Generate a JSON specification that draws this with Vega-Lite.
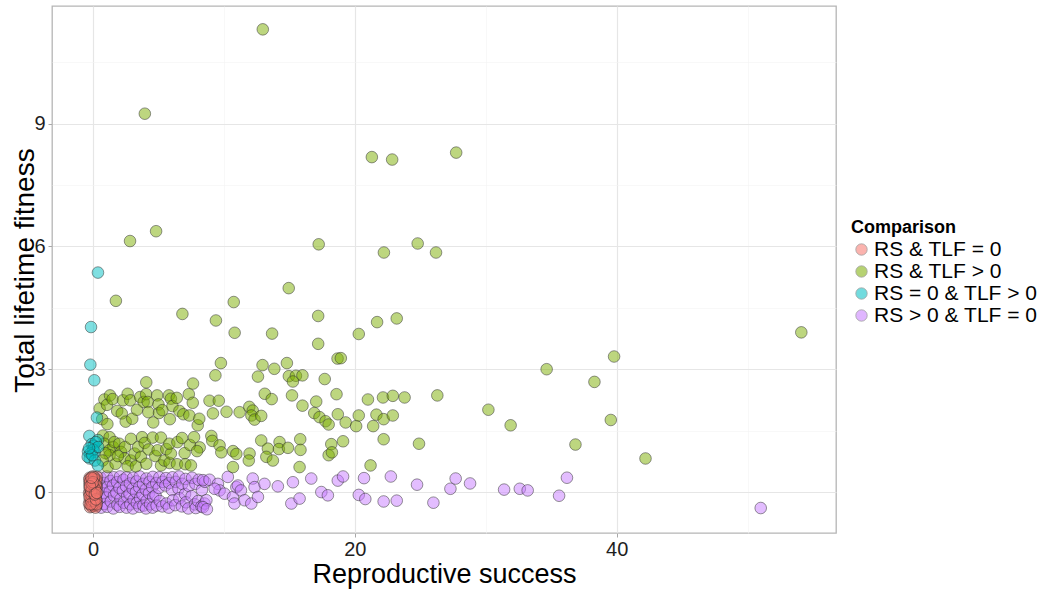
{
  "$schema": "https://vega.github.io/schema/vega-lite/v6.json",
  "width": 784,
  "height": 527,
  "autosize": "none",
  "padding": {"left": 52, "top": 6, "right": 203, "bottom": 57},
  "background": "white",
  "config": {
    "font": "Liberation Sans",
    "view": {"stroke": "#b5b5b5", "strokeWidth": 1.3}
  },
  "datasets": {
    "fitness": [
      {"rs":0.57,"tlf":0.35,"group":"RS > 0 & TLF = 0"},{"rs":0.6,"tlf":0.08,"group":"RS > 0 & TLF = 0"},{"rs":0.55,"tlf":-0.16,"group":"RS > 0 & TLF = 0"},{"rs":0.62,"tlf":-0.38,"group":"RS > 0 & TLF = 0"},
      {"rs":0.83,"tlf":0.22,"group":"RS > 0 & TLF = 0"},{"rs":0.79,"tlf":-0.03,"group":"RS > 0 & TLF = 0"},{"rs":0.86,"tlf":-0.29,"group":"RS > 0 & TLF = 0"},
      {"rs":1.06,"tlf":0.38,"group":"RS > 0 & TLF = 0"},{"rs":1.1,"tlf":0.12,"group":"RS > 0 & TLF = 0"},{"rs":1.02,"tlf":-0.13,"group":"RS > 0 & TLF = 0"},{"rs":1.08,"tlf":-0.36,"group":"RS > 0 & TLF = 0"},
      {"rs":1.33,"tlf":0.27,"group":"RS > 0 & TLF = 0"},{"rs":1.28,"tlf":0.01,"group":"RS > 0 & TLF = 0"},{"rs":1.36,"tlf":-0.23,"group":"RS > 0 & TLF = 0"},
      {"rs":1.58,"tlf":0.36,"group":"RS > 0 & TLF = 0"},{"rs":1.52,"tlf":0.16,"group":"RS > 0 & TLF = 0"},{"rs":1.6,"tlf":-0.09,"group":"RS > 0 & TLF = 0"},{"rs":1.55,"tlf":-0.4,"group":"RS > 0 & TLF = 0"},
      {"rs":1.83,"tlf":0.24,"group":"RS > 0 & TLF = 0"},{"rs":1.79,"tlf":-0.02,"group":"RS > 0 & TLF = 0"},{"rs":1.86,"tlf":-0.31,"group":"RS > 0 & TLF = 0"},
      {"rs":2.07,"tlf":0.38,"group":"RS > 0 & TLF = 0"},{"rs":2.02,"tlf":0.1,"group":"RS > 0 & TLF = 0"},{"rs":2.1,"tlf":-0.17,"group":"RS > 0 & TLF = 0"},{"rs":2.04,"tlf":-0.36,"group":"RS > 0 & TLF = 0"},
      {"rs":2.33,"tlf":0.3,"group":"RS > 0 & TLF = 0"},{"rs":2.28,"tlf":0.03,"group":"RS > 0 & TLF = 0"},{"rs":2.36,"tlf":-0.26,"group":"RS > 0 & TLF = 0"},
      {"rs":2.57,"tlf":0.36,"group":"RS > 0 & TLF = 0"},{"rs":2.53,"tlf":0.14,"group":"RS > 0 & TLF = 0"},{"rs":2.6,"tlf":-0.11,"group":"RS > 0 & TLF = 0"},{"rs":2.56,"tlf":-0.38,"group":"RS > 0 & TLF = 0"},
      {"rs":2.82,"tlf":0.21,"group":"RS > 0 & TLF = 0"},{"rs":2.79,"tlf":-0.05,"group":"RS > 0 & TLF = 0"},{"rs":2.85,"tlf":-0.3,"group":"RS > 0 & TLF = 0"},
      {"rs":3.07,"tlf":0.35,"group":"RS > 0 & TLF = 0"},{"rs":3.03,"tlf":0.08,"group":"RS > 0 & TLF = 0"},{"rs":3.1,"tlf":-0.19,"group":"RS > 0 & TLF = 0"},{"rs":3.05,"tlf":-0.4,"group":"RS > 0 & TLF = 0"},
      {"rs":3.32,"tlf":0.26,"group":"RS > 0 & TLF = 0"},{"rs":3.28,"tlf":0.0,"group":"RS > 0 & TLF = 0"},{"rs":3.35,"tlf":-0.27,"group":"RS > 0 & TLF = 0"},
      {"rs":3.57,"tlf":0.38,"group":"RS > 0 & TLF = 0"},{"rs":3.53,"tlf":0.12,"group":"RS > 0 & TLF = 0"},{"rs":3.6,"tlf":-0.15,"group":"RS > 0 & TLF = 0"},{"rs":3.55,"tlf":-0.36,"group":"RS > 0 & TLF = 0"},
      {"rs":3.82,"tlf":0.2,"group":"RS > 0 & TLF = 0"},{"rs":3.78,"tlf":-0.06,"group":"RS > 0 & TLF = 0"},{"rs":3.85,"tlf":-0.33,"group":"RS > 0 & TLF = 0"},
      {"rs":4.08,"tlf":0.33,"group":"RS > 0 & TLF = 0"},{"rs":4.03,"tlf":0.06,"group":"RS > 0 & TLF = 0"},{"rs":4.1,"tlf":-0.21,"group":"RS > 0 & TLF = 0"},{"rs":4.05,"tlf":-0.4,"group":"RS > 0 & TLF = 0"},
      {"rs":4.32,"tlf":0.25,"group":"RS > 0 & TLF = 0"},{"rs":4.28,"tlf":-0.03,"group":"RS > 0 & TLF = 0"},{"rs":4.36,"tlf":-0.3,"group":"RS > 0 & TLF = 0"},
      {"rs":4.57,"tlf":0.37,"group":"RS > 0 & TLF = 0"},{"rs":4.52,"tlf":0.12,"group":"RS > 0 & TLF = 0"},{"rs":4.6,"tlf":-0.12,"group":"RS > 0 & TLF = 0"},{"rs":4.55,"tlf":-0.38,"group":"RS > 0 & TLF = 0"},
      {"rs":4.83,"tlf":0.22,"group":"RS > 0 & TLF = 0"},{"rs":4.78,"tlf":-0.08,"group":"RS > 0 & TLF = 0"},{"rs":4.86,"tlf":-0.33,"group":"RS > 0 & TLF = 0"},
      {"rs":5.07,"tlf":0.36,"group":"RS > 0 & TLF = 0"},{"rs":5.02,"tlf":0.1,"group":"RS > 0 & TLF = 0"},{"rs":5.1,"tlf":-0.22,"group":"RS > 0 & TLF = 0"},
      {"rs":5.32,"tlf":0.25,"group":"RS > 0 & TLF = 0"},{"rs":5.29,"tlf":-0.35,"group":"RS > 0 & TLF = 0"},
      {"rs":5.57,"tlf":0.34,"group":"RS > 0 & TLF = 0"},{"rs":5.53,"tlf":0.16,"group":"RS > 0 & TLF = 0"},{"rs":5.6,"tlf":-0.28,"group":"RS > 0 & TLF = 0"},
      {"rs":5.82,"tlf":0.22,"group":"RS > 0 & TLF = 0"},{"rs":5.79,"tlf":-0.38,"group":"RS > 0 & TLF = 0"},
      {"rs":6.07,"tlf":0.36,"group":"RS > 0 & TLF = 0"},{"rs":6.03,"tlf":0.05,"group":"RS > 0 & TLF = 0"},{"rs":6.1,"tlf":-0.2,"group":"RS > 0 & TLF = 0"},
      {"rs":6.32,"tlf":0.25,"group":"RS > 0 & TLF = 0"},{"rs":6.28,"tlf":-0.32,"group":"RS > 0 & TLF = 0"},
      {"rs":6.57,"tlf":0.38,"group":"RS > 0 & TLF = 0"},{"rs":6.53,"tlf":0.08,"group":"RS > 0 & TLF = 0"},{"rs":6.6,"tlf":-0.15,"group":"RS > 0 & TLF = 0"},
      {"rs":6.82,"tlf":0.2,"group":"RS > 0 & TLF = 0"},{"rs":6.79,"tlf":-0.35,"group":"RS > 0 & TLF = 0"},
      {"rs":7.07,"tlf":0.32,"group":"RS > 0 & TLF = 0"},{"rs":7.03,"tlf":-0.05,"group":"RS > 0 & TLF = 0"},{"rs":7.1,"tlf":-0.25,"group":"RS > 0 & TLF = 0"},
      {"rs":7.32,"tlf":0.15,"group":"RS > 0 & TLF = 0"},{"rs":7.28,"tlf":-0.4,"group":"RS > 0 & TLF = 0"},
      {"rs":7.57,"tlf":0.35,"group":"RS > 0 & TLF = 0"},{"rs":7.53,"tlf":-0.1,"group":"RS > 0 & TLF = 0"},
      {"rs":7.82,"tlf":0.2,"group":"RS > 0 & TLF = 0"},{"rs":7.78,"tlf":-0.3,"group":"RS > 0 & TLF = 0"},{"rs":7.85,"tlf":-0.39,"group":"RS > 0 & TLF = 0"},
      {"rs":8.07,"tlf":0.3,"group":"RS > 0 & TLF = 0"},{"rs":8.03,"tlf":-0.22,"group":"RS > 0 & TLF = 0"},
      {"rs":8.32,"tlf":0.05,"group":"RS > 0 & TLF = 0"},{"rs":8.28,"tlf":-0.35,"group":"RS > 0 & TLF = 0"},
      {"rs":8.55,"tlf":0.25,"group":"RS > 0 & TLF = 0"},{"rs":8.52,"tlf":-0.28,"group":"RS > 0 & TLF = 0"},
      {"rs":8.4,"tlf":0.29,"group":"RS > 0 & TLF = 0"},{"rs":8.9,"tlf":0.3,"group":"RS > 0 & TLF = 0"},{"rs":9.54,"tlf":0.2,"group":"RS > 0 & TLF = 0"},{"rs":9.67,"tlf":0.04,"group":"RS > 0 & TLF = 0"},
      {"rs":9.29,"tlf":0.08,"group":"RS > 0 & TLF = 0"},{"rs":10.3,"tlf":0.37,"group":"RS > 0 & TLF = 0"},{"rs":10.05,"tlf":-0.04,"group":"RS > 0 & TLF = 0"},{"rs":10.69,"tlf":-0.12,"group":"RS > 0 & TLF = 0"},
      {"rs":10.8,"tlf":-0.28,"group":"RS > 0 & TLF = 0"},{"rs":10.95,"tlf":0.12,"group":"RS > 0 & TLF = 0"},{"rs":11.07,"tlf":0.16,"group":"RS > 0 & TLF = 0"},{"rs":11.3,"tlf":0.04,"group":"RS > 0 & TLF = 0"},
      {"rs":11.58,"tlf":-0.2,"group":"RS > 0 & TLF = 0"},{"rs":12.09,"tlf":-0.28,"group":"RS > 0 & TLF = 0"},{"rs":12.2,"tlf":0.33,"group":"RS > 0 & TLF = 0"},{"rs":12.34,"tlf":0.12,"group":"RS > 0 & TLF = 0"},
      {"rs":12.6,"tlf":-0.12,"group":"RS > 0 & TLF = 0"},{"rs":13.1,"tlf":0.2,"group":"RS > 0 & TLF = 0"},{"rs":14.12,"tlf":0.14,"group":"RS > 0 & TLF = 0"},{"rs":15.15,"tlf":-0.28,"group":"RS > 0 & TLF = 0"},
      {"rs":15.27,"tlf":0.24,"group":"RS > 0 & TLF = 0"},{"rs":15.78,"tlf":-0.16,"group":"RS > 0 & TLF = 0"},{"rs":16.67,"tlf":0.33,"group":"RS > 0 & TLF = 0"},{"rs":17.44,"tlf":0.0,"group":"RS > 0 & TLF = 0"},
      {"rs":17.94,"tlf":-0.08,"group":"RS > 0 & TLF = 0"},{"rs":18.7,"tlf":0.28,"group":"RS > 0 & TLF = 0"},{"rs":19.1,"tlf":0.38,"group":"RS > 0 & TLF = 0"},{"rs":20.3,"tlf":-0.07,"group":"RS > 0 & TLF = 0"},
      {"rs":20.8,"tlf":-0.17,"group":"RS > 0 & TLF = 0"},{"rs":20.7,"tlf":0.34,"group":"RS > 0 & TLF = 0"},{"rs":22.2,"tlf":-0.23,"group":"RS > 0 & TLF = 0"},{"rs":22.75,"tlf":0.38,"group":"RS > 0 & TLF = 0"},
      {"rs":23.2,"tlf":-0.21,"group":"RS > 0 & TLF = 0"},{"rs":24.75,"tlf":0.18,"group":"RS > 0 & TLF = 0"},{"rs":26.0,"tlf":-0.26,"group":"RS > 0 & TLF = 0"},{"rs":27.3,"tlf":0.08,"group":"RS > 0 & TLF = 0"},
      {"rs":27.7,"tlf":0.33,"group":"RS > 0 & TLF = 0"},{"rs":28.8,"tlf":0.21,"group":"RS > 0 & TLF = 0"},{"rs":31.4,"tlf":0.06,"group":"RS > 0 & TLF = 0"},{"rs":32.6,"tlf":0.08,"group":"RS > 0 & TLF = 0"},
      {"rs":33.2,"tlf":0.04,"group":"RS > 0 & TLF = 0"},{"rs":35.6,"tlf":-0.09,"group":"RS > 0 & TLF = 0"},{"rs":36.2,"tlf":0.35,"group":"RS > 0 & TLF = 0"},{"rs":51.0,"tlf":-0.39,"group":"RS > 0 & TLF = 0"},
      {"rs":8.66,"tlf":-0.2,"group":"RS > 0 & TLF = 0"},{"rs":8.4,"tlf":-0.37,"group":"RS > 0 & TLF = 0"},{"rs":8.7,"tlf":-0.42,"group":"RS > 0 & TLF = 0"},

      {"rs":12.97,"tlf":11.3,"group":"RS & TLF > 0"},{"rs":3.96,"tlf":9.24,"group":"RS & TLF > 0"},{"rs":21.3,"tlf":8.18,"group":"RS & TLF > 0"},{"rs":22.85,"tlf":8.12,"group":"RS & TLF > 0"},
      {"rs":27.74,"tlf":8.29,"group":"RS & TLF > 0"},{"rs":2.83,"tlf":6.13,"group":"RS & TLF > 0"},{"rs":4.82,"tlf":6.37,"group":"RS & TLF > 0"},{"rs":17.24,"tlf":6.05,"group":"RS & TLF > 0"},
      {"rs":24.8,"tlf":6.07,"group":"RS & TLF > 0"},{"rs":26.2,"tlf":5.85,"group":"RS & TLF > 0"},{"rs":22.22,"tlf":5.85,"group":"RS & TLF > 0"},{"rs":1.75,"tlf":4.67,"group":"RS & TLF > 0"},
      {"rs":6.83,"tlf":4.35,"group":"RS & TLF > 0"},{"rs":14.95,"tlf":4.98,"group":"RS & TLF > 0"},{"rs":10.75,"tlf":4.64,"group":"RS & TLF > 0"},{"rs":17.2,"tlf":4.3,"group":"RS & TLF > 0"},
      {"rs":21.7,"tlf":4.15,"group":"RS & TLF > 0"},{"rs":23.2,"tlf":4.24,"group":"RS & TLF > 0"},{"rs":9.39,"tlf":4.19,"group":"RS & TLF > 0"},{"rs":13.68,"tlf":3.87,"group":"RS & TLF > 0"},
      {"rs":10.82,"tlf":3.89,"group":"RS & TLF > 0"},{"rs":20.3,"tlf":3.86,"group":"RS & TLF > 0"},{"rs":17.2,"tlf":3.62,"group":"RS & TLF > 0"},{"rs":54.1,"tlf":3.9,"group":"RS & TLF > 0"},
      {"rs":39.8,"tlf":3.31,"group":"RS & TLF > 0"},{"rs":34.65,"tlf":3.0,"group":"RS & TLF > 0"},{"rs":38.3,"tlf":2.69,"group":"RS & TLF > 0"},{"rs":26.3,"tlf":2.36,"group":"RS & TLF > 0"},
      {"rs":30.2,"tlf":2.01,"group":"RS & TLF > 0"},{"rs":31.9,"tlf":1.63,"group":"RS & TLF > 0"},{"rs":39.55,"tlf":1.76,"group":"RS & TLF > 0"},{"rs":36.85,"tlf":1.16,"group":"RS & TLF > 0"},
      {"rs":42.2,"tlf":0.82,"group":"RS & TLF > 0"},{"rs":24.9,"tlf":1.18,"group":"RS & TLF > 0"},
      {"rs":9.77,"tlf":3.15,"group":"RS & TLF > 0"},{"rs":12.95,"tlf":3.1,"group":"RS & TLF > 0"},{"rs":13.85,"tlf":3.01,"group":"RS & TLF > 0"},{"rs":14.81,"tlf":3.15,"group":"RS & TLF > 0"},
      {"rs":18.68,"tlf":3.26,"group":"RS & TLF > 0"},{"rs":18.93,"tlf":3.27,"group":"RS & TLF > 0"},{"rs":9.35,"tlf":2.85,"group":"RS & TLF > 0"},{"rs":12.6,"tlf":2.82,"group":"RS & TLF > 0"},
      {"rs":14.96,"tlf":2.83,"group":"RS & TLF > 0"},{"rs":15.5,"tlf":2.84,"group":"RS & TLF > 0"},{"rs":16.0,"tlf":2.85,"group":"RS & TLF > 0"},{"rs":15.27,"tlf":2.7,"group":"RS & TLF > 0"},
      {"rs":17.7,"tlf":2.76,"group":"RS & TLF > 0"},{"rs":13.12,"tlf":2.4,"group":"RS & TLF > 0"},{"rs":13.65,"tlf":2.27,"group":"RS & TLF > 0"},{"rs":15.2,"tlf":2.36,"group":"RS & TLF > 0"},
      {"rs":16.0,"tlf":2.11,"group":"RS & TLF > 0"},{"rs":17.05,"tlf":2.21,"group":"RS & TLF > 0"},{"rs":16.9,"tlf":1.93,"group":"RS & TLF > 0"},{"rs":17.3,"tlf":1.83,"group":"RS & TLF > 0"},
      {"rs":17.76,"tlf":1.73,"group":"RS & TLF > 0"},{"rs":8.9,"tlf":2.23,"group":"RS & TLF > 0"},{"rs":9.61,"tlf":2.23,"group":"RS & TLF > 0"},{"rs":9.16,"tlf":1.92,"group":"RS & TLF > 0"},
      {"rs":10.2,"tlf":1.96,"group":"RS & TLF > 0"},{"rs":11.2,"tlf":1.95,"group":"RS & TLF > 0"},{"rs":11.94,"tlf":2.08,"group":"RS & TLF > 0"},{"rs":12.2,"tlf":1.99,"group":"RS & TLF > 0"},
      {"rs":12.1,"tlf":1.87,"group":"RS & TLF > 0"},{"rs":12.34,"tlf":1.77,"group":"RS & TLF > 0"},{"rs":12.85,"tlf":1.86,"group":"RS & TLF > 0"},{"rs":18.6,"tlf":2.39,"group":"RS & TLF > 0"},
      {"rs":21.0,"tlf":2.26,"group":"RS & TLF > 0"},{"rs":22.15,"tlf":2.31,"group":"RS & TLF > 0"},{"rs":22.9,"tlf":2.35,"group":"RS & TLF > 0"},{"rs":23.8,"tlf":2.31,"group":"RS & TLF > 0"},
      {"rs":18.0,"tlf":1.65,"group":"RS & TLF > 0"},{"rs":18.7,"tlf":1.9,"group":"RS & TLF > 0"},{"rs":19.3,"tlf":1.7,"group":"RS & TLF > 0"},{"rs":20.1,"tlf":1.61,"group":"RS & TLF > 0"},
      {"rs":20.3,"tlf":1.87,"group":"RS & TLF > 0"},{"rs":21.4,"tlf":1.61,"group":"RS & TLF > 0"},{"rs":21.65,"tlf":1.89,"group":"RS & TLF > 0"},{"rs":22.2,"tlf":1.78,"group":"RS & TLF > 0"},
      {"rs":22.9,"tlf":1.87,"group":"RS & TLF > 0"},
      {"rs":8.15,"tlf":1.09,"group":"RS & TLF > 0"},{"rs":9.04,"tlf":1.37,"group":"RS & TLF > 0"},{"rs":9.11,"tlf":1.25,"group":"RS & TLF > 0"},{"rs":9.67,"tlf":1.14,"group":"RS & TLF > 0"},
      {"rs":9.8,"tlf":0.97,"group":"RS & TLF > 0"},{"rs":10.7,"tlf":1.0,"group":"RS & TLF > 0"},{"rs":10.95,"tlf":0.93,"group":"RS & TLF > 0"},{"rs":11.96,"tlf":0.94,"group":"RS & TLF > 0"},
      {"rs":11.9,"tlf":0.77,"group":"RS & TLF > 0"},{"rs":10.69,"tlf":0.61,"group":"RS & TLF > 0"},{"rs":12.85,"tlf":1.26,"group":"RS & TLF > 0"},{"rs":13.36,"tlf":1.06,"group":"RS & TLF > 0"},
      {"rs":14.25,"tlf":1.22,"group":"RS & TLF > 0"},{"rs":14.2,"tlf":1.05,"group":"RS & TLF > 0"},{"rs":14.89,"tlf":1.08,"group":"RS & TLF > 0"},{"rs":15.83,"tlf":1.29,"group":"RS & TLF > 0"},
      {"rs":15.85,"tlf":1.03,"group":"RS & TLF > 0"},{"rs":15.78,"tlf":0.61,"group":"RS & TLF > 0"},{"rs":13.24,"tlf":0.86,"group":"RS & TLF > 0"},{"rs":13.74,"tlf":0.77,"group":"RS & TLF > 0"},
      {"rs":18.2,"tlf":1.17,"group":"RS & TLF > 0"},{"rs":19.1,"tlf":1.24,"group":"RS & TLF > 0"},{"rs":18.0,"tlf":0.9,"group":"RS & TLF > 0"},{"rs":18.25,"tlf":0.97,"group":"RS & TLF > 0"},
      {"rs":22.2,"tlf":1.29,"group":"RS & TLF > 0"},{"rs":21.2,"tlf":0.65,"group":"RS & TLF > 0"},
      {"rs":0.51,"tlf":2.04,"group":"RS & TLF > 0"},{"rs":0.87,"tlf":2.26,"group":"RS & TLF > 0"},{"rs":1.07,"tlf":2.13,"group":"RS & TLF > 0"},{"rs":1.3,"tlf":2.36,"group":"RS & TLF > 0"},
      {"rs":1.5,"tlf":2.27,"group":"RS & TLF > 0"},{"rs":0.7,"tlf":1.78,"group":"RS & TLF > 0"},{"rs":1.1,"tlf":1.66,"group":"RS & TLF > 0"},{"rs":1.85,"tlf":1.98,"group":"RS & TLF > 0"},
      {"rs":2.2,"tlf":1.92,"group":"RS & TLF > 0"},{"rs":2.29,"tlf":2.24,"group":"RS & TLF > 0"},{"rs":2.65,"tlf":2.4,"group":"RS & TLF > 0"},{"rs":2.85,"tlf":2.24,"group":"RS & TLF > 0"},
      {"rs":2.5,"tlf":1.72,"group":"RS & TLF > 0"},{"rs":3.0,"tlf":1.79,"group":"RS & TLF > 0"},{"rs":3.36,"tlf":2.01,"group":"RS & TLF > 0"},{"rs":3.6,"tlf":2.32,"group":"RS & TLF > 0"},
      {"rs":3.87,"tlf":2.2,"group":"RS & TLF > 0"},{"rs":4.06,"tlf":2.39,"group":"RS & TLF > 0"},{"rs":4.07,"tlf":2.68,"group":"RS & TLF > 0"},{"rs":4.18,"tlf":2.2,"group":"RS & TLF > 0"},
      {"rs":4.23,"tlf":1.95,"group":"RS & TLF > 0"},{"rs":4.6,"tlf":1.7,"group":"RS & TLF > 0"},{"rs":4.9,"tlf":2.36,"group":"RS & TLF > 0"},{"rs":5.0,"tlf":2.14,"group":"RS & TLF > 0"},
      {"rs":5.04,"tlf":1.93,"group":"RS & TLF > 0"},{"rs":5.3,"tlf":2.0,"group":"RS & TLF > 0"},{"rs":5.8,"tlf":2.36,"group":"RS & TLF > 0"},{"rs":5.95,"tlf":2.28,"group":"RS & TLF > 0"},
      {"rs":6.07,"tlf":2.1,"group":"RS & TLF > 0"},{"rs":5.87,"tlf":1.78,"group":"RS & TLF > 0"},{"rs":6.4,"tlf":2.3,"group":"RS & TLF > 0"},{"rs":6.6,"tlf":1.98,"group":"RS & TLF > 0"},
      {"rs":6.9,"tlf":1.9,"group":"RS & TLF > 0"},{"rs":7.32,"tlf":2.39,"group":"RS & TLF > 0"},{"rs":7.62,"tlf":2.18,"group":"RS & TLF > 0"},{"rs":7.36,"tlf":1.87,"group":"RS & TLF > 0"},
      {"rs":7.64,"tlf":2.65,"group":"RS & TLF > 0"},{"rs":8.0,"tlf":1.63,"group":"RS & TLF > 0"},{"rs":8.12,"tlf":1.79,"group":"RS & TLF > 0"},
      {"rs":0.76,"tlf":1.38,"group":"RS & TLF > 0"},{"rs":1.27,"tlf":1.34,"group":"RS & TLF > 0"},{"rs":0.87,"tlf":1.18,"group":"RS & TLF > 0"},{"rs":1.53,"tlf":1.1,"group":"RS & TLF > 0"},
      {"rs":1.25,"tlf":1.02,"group":"RS & TLF > 0"},{"rs":1.27,"tlf":0.9,"group":"RS & TLF > 0"},{"rs":0.95,"tlf":0.95,"group":"RS & TLF > 0"},{"rs":0.74,"tlf":0.77,"group":"RS & TLF > 0"},
      {"rs":1.12,"tlf":0.61,"group":"RS & TLF > 0"},{"rs":1.73,"tlf":0.69,"group":"RS & TLF > 0"},{"rs":1.63,"tlf":1.22,"group":"RS & TLF > 0"},{"rs":2.01,"tlf":1.18,"group":"RS & TLF > 0"},
      {"rs":2.14,"tlf":0.98,"group":"RS & TLF > 0"},{"rs":2.45,"tlf":1.1,"group":"RS & TLF > 0"},{"rs":2.42,"tlf":0.82,"group":"RS & TLF > 0"},{"rs":1.9,"tlf":0.88,"group":"RS & TLF > 0"},
      {"rs":2.9,"tlf":1.3,"group":"RS & TLF > 0"},{"rs":2.9,"tlf":0.77,"group":"RS & TLF > 0"},{"rs":2.65,"tlf":0.63,"group":"RS & TLF > 0"},{"rs":3.28,"tlf":0.63,"group":"RS & TLF > 0"},
      {"rs":3.18,"tlf":0.94,"group":"RS & TLF > 0"},{"rs":3.45,"tlf":1.1,"group":"RS & TLF > 0"},{"rs":3.75,"tlf":1.34,"group":"RS & TLF > 0"},{"rs":3.66,"tlf":0.86,"group":"RS & TLF > 0"},
      {"rs":3.95,"tlf":1.2,"group":"RS & TLF > 0"},{"rs":4.07,"tlf":0.69,"group":"RS & TLF > 0"},{"rs":4.25,"tlf":1.04,"group":"RS & TLF > 0"},{"rs":4.56,"tlf":1.33,"group":"RS & TLF > 0"},
      {"rs":4.76,"tlf":0.88,"group":"RS & TLF > 0"},{"rs":4.94,"tlf":1.02,"group":"RS & TLF > 0"},{"rs":5.19,"tlf":1.33,"group":"RS & TLF > 0"},{"rs":5.2,"tlf":0.65,"group":"RS & TLF > 0"},
      {"rs":5.45,"tlf":0.77,"group":"RS & TLF > 0"},{"rs":5.6,"tlf":1.05,"group":"RS & TLF > 0"},{"rs":5.85,"tlf":0.71,"group":"RS & TLF > 0"},{"rs":5.95,"tlf":0.94,"group":"RS & TLF > 0"},
      {"rs":5.83,"tlf":1.18,"group":"RS & TLF > 0"},{"rs":6.45,"tlf":1.22,"group":"RS & TLF > 0"},{"rs":6.8,"tlf":1.32,"group":"RS & TLF > 0"},{"rs":6.42,"tlf":0.68,"group":"RS & TLF > 0"},
      {"rs":7.0,"tlf":0.95,"group":"RS & TLF > 0"},{"rs":7.05,"tlf":0.68,"group":"RS & TLF > 0"},{"rs":7.48,"tlf":0.65,"group":"RS & TLF > 0"},{"rs":7.4,"tlf":1.15,"group":"RS & TLF > 0"},
      {"rs":7.72,"tlf":1.34,"group":"RS & TLF > 0"},{"rs":7.95,"tlf":1.0,"group":"RS & TLF > 0"},

      {"rs":0.38,"tlf":5.36,"group":"RS = 0 & TLF > 0"},{"rs":-0.15,"tlf":4.03,"group":"RS = 0 & TLF > 0"},{"rs":-0.2,"tlf":3.11,"group":"RS = 0 & TLF > 0"},{"rs":0.1,"tlf":2.73,"group":"RS = 0 & TLF > 0"},
      {"rs":0.3,"tlf":1.82,"group":"RS = 0 & TLF > 0"},{"rs":-0.28,"tlf":1.37,"group":"RS = 0 & TLF > 0"},{"rs":0.38,"tlf":1.27,"group":"RS = 0 & TLF > 0"},{"rs":-0.1,"tlf":1.17,"group":"RS = 0 & TLF > 0"},
      {"rs":0.05,"tlf":1.13,"group":"RS = 0 & TLF > 0"},{"rs":0.22,"tlf":1.22,"group":"RS = 0 & TLF > 0"},{"rs":-0.38,"tlf":0.99,"group":"RS = 0 & TLF > 0"},{"rs":0.13,"tlf":0.98,"group":"RS = 0 & TLF > 0"},
      {"rs":0.03,"tlf":1.03,"group":"RS = 0 & TLF > 0"},{"rs":-0.2,"tlf":0.94,"group":"RS = 0 & TLF > 0"},{"rs":-0.25,"tlf":0.82,"group":"RS = 0 & TLF > 0"},{"rs":-0.4,"tlf":0.86,"group":"RS = 0 & TLF > 0"},
      {"rs":0.15,"tlf":0.77,"group":"RS = 0 & TLF > 0"},{"rs":0.38,"tlf":0.65,"group":"RS = 0 & TLF > 0"},{"rs":-0.05,"tlf":0.9,"group":"RS = 0 & TLF > 0"},{"rs":0.4,"tlf":1.1,"group":"RS = 0 & TLF > 0"},
      {"rs":-0.3,"tlf":1.07,"group":"RS = 0 & TLF > 0"},

      {"rs":-0.25,"tlf":0.35,"group":"RS & TLF = 0"},{"rs":0.1,"tlf":0.31,"group":"RS & TLF = 0"},{"rs":0.27,"tlf":0.22,"group":"RS & TLF = 0"},{"rs":-0.12,"tlf":0.18,"group":"RS & TLF = 0"},
      {"rs":0.05,"tlf":0.05,"group":"RS & TLF = 0"},{"rs":-0.3,"tlf":-0.02,"group":"RS & TLF = 0"},{"rs":0.2,"tlf":-0.1,"group":"RS & TLF = 0"},{"rs":-0.05,"tlf":-0.25,"group":"RS & TLF = 0"},
      {"rs":0.25,"tlf":-0.34,"group":"RS & TLF = 0"},{"rs":-0.22,"tlf":-0.37,"group":"RS & TLF = 0"},{"rs":0.12,"tlf":-0.2,"group":"RS & TLF = 0"},{"rs":-0.18,"tlf":0.08,"group":"RS & TLF = 0"},
      {"rs":0.3,"tlf":0.37,"group":"RS & TLF = 0"},{"rs":-0.08,"tlf":0.27,"group":"RS & TLF = 0"},{"rs":0.16,"tlf":0.12,"group":"RS & TLF = 0"},{"rs":-0.27,"tlf":0.2,"group":"RS & TLF = 0"},
      {"rs":0.02,"tlf":-0.12,"group":"RS & TLF = 0"},{"rs":0.22,"tlf":0.02,"group":"RS & TLF = 0"},{"rs":-0.15,"tlf":-0.15,"group":"RS & TLF = 0"},{"rs":0.08,"tlf":-0.33,"group":"RS & TLF = 0"},
      {"rs":-0.3,"tlf":-0.28,"group":"RS & TLF = 0"},{"rs":0.28,"tlf":-0.22,"group":"RS & TLF = 0"},{"rs":-0.02,"tlf":0.38,"group":"RS & TLF = 0"},{"rs":0.18,"tlf":0.29,"group":"RS & TLF = 0"},
      {"rs":-0.2,"tlf":-0.05,"group":"RS & TLF = 0"},{"rs":0.05,"tlf":0.15,"group":"RS & TLF = 0"},{"rs":-0.1,"tlf":-0.35,"group":"RS & TLF = 0"},{"rs":0.24,"tlf":-0.05,"group":"RS & TLF = 0"},
      {"rs":-0.26,"tlf":0.1,"group":"RS & TLF = 0"},{"rs":0.13,"tlf":-0.28,"group":"RS & TLF = 0"},{"rs":-0.06,"tlf":0.1,"group":"RS & TLF = 0"},{"rs":0.29,"tlf":0.12,"group":"RS & TLF = 0"},
      {"rs":-0.16,"tlf":0.32,"group":"RS & TLF = 0"},{"rs":0.0,"tlf":-0.04,"group":"RS & TLF = 0"},{"rs":0.19,"tlf":-0.38,"group":"RS & TLF = 0"},{"rs":-0.24,"tlf":-0.18,"group":"RS & TLF = 0"},
      {"rs":0.1,"tlf":0.22,"group":"RS & TLF = 0"},{"rs":-0.12,"tlf":-0.22,"group":"RS & TLF = 0"},{"rs":0.26,"tlf":0.3,"group":"RS & TLF = 0"},{"rs":-0.28,"tlf":0.3,"group":"RS & TLF = 0"},
      {"rs":0.03,"tlf":0.33,"group":"RS & TLF = 0"},{"rs":-0.09,"tlf":-0.08,"group":"RS & TLF = 0"},{"rs":0.15,"tlf":-0.14,"group":"RS & TLF = 0"},{"rs":-0.21,"tlf":0.25,"group":"RS & TLF = 0"},
      {"rs":0.21,"tlf":0.17,"group":"RS & TLF = 0"},{"rs":-0.03,"tlf":-0.3,"group":"RS & TLF = 0"},{"rs":0.07,"tlf":-0.22,"group":"RS & TLF = 0"},{"rs":-0.27,"tlf":-0.1,"group":"RS & TLF = 0"},
      {"rs":0.17,"tlf":0.06,"group":"RS & TLF = 0"},{"rs":-0.13,"tlf":0.02,"group":"RS & TLF = 0"},{"rs":0.27,"tlf":-0.3,"group":"RS & TLF = 0"},{"rs":-0.19,"tlf":-0.3,"group":"RS & TLF = 0"},
      {"rs":0.09,"tlf":0.36,"group":"RS & TLF = 0"},{"rs":-0.07,"tlf":0.2,"group":"RS & TLF = 0"},{"rs":0.23,"tlf":-0.18,"group":"RS & TLF = 0"},{"rs":0.01,"tlf":0.24,"group":"RS & TLF = 0"},
      {"rs":-0.23,"tlf":0.14,"group":"RS & TLF = 0"},{"rs":0.14,"tlf":-0.06,"group":"RS & TLF = 0"},{"rs":-0.11,"tlf":0.35,"group":"RS & TLF = 0"},{"rs":0.3,"tlf":-0.02,"group":"RS & TLF = 0"}
    ]
  },
  "data": {"name": "fitness"},
  "mark": {
    "type": "circle",
    "size": 135,
    "opacity": 1,
    "fillOpacity": 0.5,
    "stroke": "#2b2b2b",
    "strokeOpacity": 0.55,
    "strokeWidth": 0.9
  },
  "encoding": {
    "x": {
      "field": "rs",
      "type": "quantitative",
      "scale": {"domain": [-3.13, 56.75], "nice": false, "zero": false},
      "axis": {
        "title": "Reproductive success",
        "values": [0, 10, 20, 30, 40, 50],
        "labelExpr": "datum.value % 20 === 0 ? datum.label : ''",
        "domain": false,
        "grid": true,
        "gridColor": {"condition": {"test": "datum.value % 20 === 0", "value": "#e6e6e6"}, "value": "#f3f3f3"},
        "gridWidth": {"condition": {"test": "datum.value % 20 === 0", "value": 1.2}, "value": 0.6},
        "tickColor": "#a8a8a8",
        "tickOpacity": {"condition": {"test": "datum.value % 20 === 0", "value": 1}, "value": 0},
        "tickSize": 4,
        "tickWidth": 1,
        "labelFontSize": 20,
        "labelColor": "#1e1e1e",
        "labelPadding": 2,
        "labelFlush": false,
        "labelOverlap": false,
        "titleFontSize": 27,
        "titleFontWeight": "normal",
        "titleColor": "#000000",
        "titleBaseline": "alphabetic",
        "titleY": 49
      }
    },
    "y": {
      "field": "tlf",
      "type": "quantitative",
      "scale": {"domain": [-1.0, 11.87], "nice": false, "zero": false},
      "axis": {
        "title": "Total lifetime fitness",
        "values": [0, 1.5, 3, 4.5, 6, 7.5, 9, 10.5],
        "labelExpr": "datum.value % 3 === 0 ? datum.label : ''",
        "domain": false,
        "grid": true,
        "gridColor": {"condition": {"test": "datum.value % 3 === 0", "value": "#e6e6e6"}, "value": "#f3f3f3"},
        "gridWidth": {"condition": {"test": "datum.value % 3 === 0", "value": 1.2}, "value": 0.6},
        "tickColor": "#a8a8a8",
        "tickOpacity": {"condition": {"test": "datum.value % 3 === 0", "value": 1}, "value": 0},
        "tickSize": 4,
        "tickWidth": 1,
        "labelFontSize": 20,
        "labelColor": "#1e1e1e",
        "labelPadding": 3,
        "labelFlush": false,
        "labelOverlap": false,
        "titleFontSize": 28,
        "titleFontWeight": "normal",
        "titleColor": "#000000",
        "titleBaseline": "alphabetic",
        "titleX": -19,
        "titleY": 264
      }
    },
    "color": {
      "field": "group",
      "type": "nominal",
      "title": "Comparison",
      "scale": {
        "domain": ["RS & TLF = 0", "RS & TLF > 0", "RS = 0 & TLF > 0", "RS > 0 & TLF = 0"],
        "range": ["#F8766D", "#7CAE00", "#00BFC4", "#C77CFF"]
      },
      "legend": {
        "orient": "none",
        "legendX": 799,
        "legendY": 213,
        "titleFontSize": 18,
        "titleFontWeight": "bold",
        "titleColor": "#000000",
        "titlePadding": 2,
        "labelFontSize": 21,
        "labelColor": "#000000",
        "labelLimit": 300,
        "labelOffset": 2,
        "rowPadding": 0,
        "symbolType": "circle",
        "symbolSize": 130,
        "symbolOpacity": 0.55,
        "symbolStrokeColor": "#555555",
        "symbolStrokeWidth": 0.8
      }
    }
  }
}
